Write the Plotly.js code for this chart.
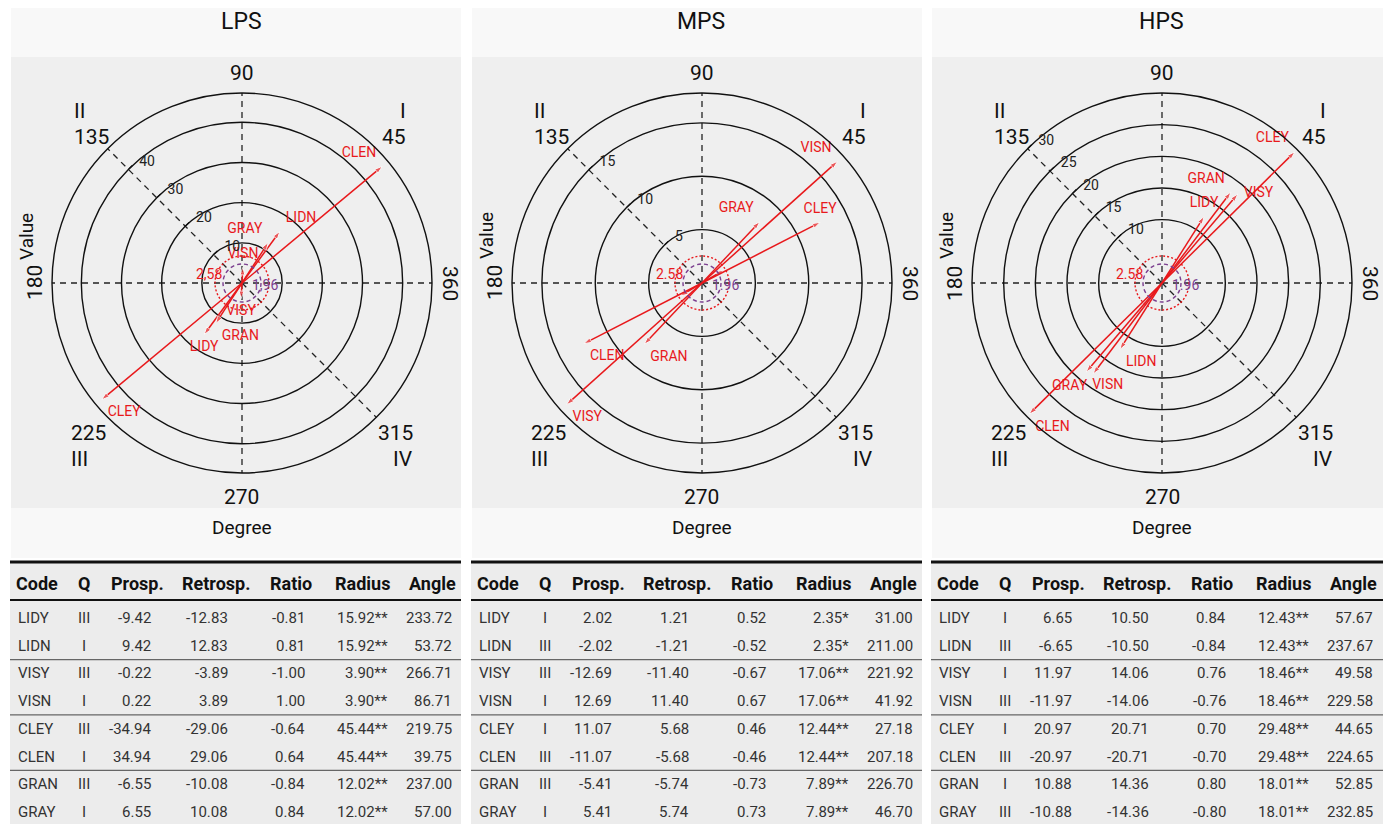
<!DOCTYPE html>
<html>
<head>
<meta charset="utf-8">
<script src="https://cdn.plot.ly/plotly-3.0.1.min.js"></script>
<style>
html,body{margin:0;padding:0;background:#ffffff;}
#chart{width:1391px;height:824px;}
</style>
</head>
<body>
<div id="chart"></div>
<script>
// ---------------- DATA ----------------
const panelNames = ['LPS', 'MPS', 'HPS'];
const codes = ['LIDY', 'LIDN', 'VISY', 'VISN', 'CLEY', 'CLEN', 'GRAN', 'GRAY'];

const lpsQ      = ['III', 'I', 'III', 'I', 'III', 'I', 'III', 'I'];
const lpsProsp  = [-9.42, 9.42, -0.22, 0.22, -34.94, 34.94, -6.55, 6.55];
const lpsRetro  = [-12.83, 12.83, -3.89, 3.89, -29.06, 29.06, -10.08, 10.08];
const lpsRatio  = [-0.81, 0.81, -1.00, 1.00, -0.64, 0.64, -0.84, 0.84];
const lpsRadius = [15.92, 15.92, 3.90, 3.90, 45.44, 45.44, 12.02, 12.02];
const lpsSig    = ['**', '**', '**', '**', '**', '**', '**', '**'];
const lpsAngle  = [233.72, 53.72, 266.71, 86.71, 219.75, 39.75, 237.00, 57.00];

const mpsQ      = ['I', 'III', 'III', 'I', 'I', 'III', 'III', 'I'];
const mpsProsp  = [2.02, -2.02, -12.69, 12.69, 11.07, -11.07, -5.41, 5.41];
const mpsRetro  = [1.21, -1.21, -11.40, 11.40, 5.68, -5.68, -5.74, 5.74];
const mpsRatio  = [0.52, -0.52, -0.67, 0.67, 0.46, -0.46, -0.73, 0.73];
const mpsRadius = [2.35, 2.35, 17.06, 17.06, 12.44, 12.44, 7.89, 7.89];
const mpsSig    = ['*', '*', '**', '**', '**', '**', '**', '**'];
const mpsAngle  = [31.00, 211.00, 221.92, 41.92, 27.18, 207.18, 226.70, 46.70];

const hpsQ      = ['I', 'III', 'I', 'III', 'I', 'III', 'I', 'III'];
const hpsProsp  = [6.65, -6.65, 11.97, -11.97, 20.97, -20.97, 10.88, -10.88];
const hpsRetro  = [10.50, -10.50, 14.06, -14.06, 20.71, -20.71, 14.36, -14.36];
const hpsRatio  = [0.84, -0.84, 0.76, -0.76, 0.70, -0.70, 0.80, -0.80];
const hpsRadius = [12.43, 12.43, 18.46, 18.46, 29.48, 29.48, 18.01, 18.01];
const hpsSig    = ['**', '**', '**', '**', '**', '**', '**', '**'];
const hpsAngle  = [57.67, 237.67, 49.58, 229.58, 44.65, 224.65, 52.85, 232.85];

const radialTicks = [[10, 20, 30, 40], [5, 10, 15], [10, 15, 20, 25, 30]];
const sigLevels = ['2.58', '1.96'];
const sigLevelTextLPS = ['2,58', '1,96'];
const tableHeaders = ['Code', 'Q', 'Prosp.', 'Retrosp.', 'Ratio', 'Radius', 'Angle'];
const sideAngleTexts = ['90', '270', '180', '360'];
const cornerAngleTexts = ['135', '45', '225', '315'];
const quadrantTexts = ['II', 'I', 'III', 'IV'];

// ---------------- STYLE / LAYOUT ----------------
const W = 1391, H = 824;
const FONT = "Roboto, 'Liberation Sans', sans-serif";
const RED = '#e8191c', PURPLE = '#7b3f8f';
const px = x => x / W;
const py = y => 1 - y / H;

const panels = [
  {name: 'LPS', cx: 242,  left: 11,  right: 461, rmax: 47.3, Q: lpsQ, prosp: lpsProsp, retro: lpsRetro, ratio: lpsRatio, radius: lpsRadius, sig: lpsSig, angle: lpsAngle,
   labelPos: ['bottom center', 'top right', 'bottom center', 'top center', 'bottom right', 'top left', 'bottom right', 'top left'], hideLabel: []},
  {name: 'MPS', cx: 702,  left: 472, right: 922, rmax: 17.8, Q: mpsQ, prosp: mpsProsp, retro: mpsRetro, ratio: mpsRatio, radius: mpsRadius, sig: mpsSig, angle: mpsAngle,
   labelPos: ['top right', 'bottom left', 'bottom right', 'top left', 'top center', 'bottom right', 'bottom right', 'top left'], hideLabel: ['LIDY', 'LIDN']},
  {name: 'HPS', cx: 1162, left: 932, right: 1383, rmax: 30.0, Q: hpsQ, prosp: hpsProsp, retro: hpsRetro, ratio: hpsRatio, radius: hpsRadius, sig: hpsSig, angle: hpsAngle,
   labelPos: ['top center', 'bottom right', 'middle right', 'bottom right', 'top left', 'bottom right', 'top left', 'bottom left'], hideLabel: []}
];
const CY = 283, R = 190;

// [dx, dy, textangle]
const sideAngleOffsets = [[0, -210, 0], [0, 214, 0], [-207, 0, -90], [208, 0, 90]];
// corner labels: number and roman numeral stacked; [dx, boundary dy, xanchor, numberOnTop]
const cornerStacks = [[-169, -159, 'left', false], [165, -159, 'right', false], [-172, 163, 'left', true], [172, 163, 'right', true]];

// table geometry
const tTop = 562, tHeadY = 583, tHeadLine = 600, tRow0 = 618, tRowH = 27.7;
const colX = [6, 73, 141, 218, 295, 378, 442];          // data cell anchors (offset from panel left)
const colAlign = ['left', 'center', 'right', 'right', 'right', 'right', 'right'];
const headX = [4, 73, 154, 240, 302, 380, 446];

const traces = [];
const shapes = [];
const annotations = [];
const layout = {
  width: W, height: H,
  margin: {l: 0, r: 0, t: 0, b: 0},
  paper_bgcolor: '#ffffff',
  showlegend: false,
  font: {family: FONT, color: '#222'},
};

function txt(x, y, text, size, color, opts) {
  return Object.assign({xref: 'paper', yref: 'paper', x: px(x), y: py(y), text: text, showarrow: false,
    font: {size: size, color: color, family: FONT}, xanchor: 'center', yanchor: 'middle', borderpad: 0}, opts || {});
}

panels.forEach((p, i) => {
  const key = i === 0 ? 'polar' : 'polar' + (i + 1);
  // background blocks
  shapes.push({type: 'rect', xref: 'paper', yref: 'paper', layer: 'below', x0: px(p.left), x1: px(p.right), y0: py(558), y1: py(8),
    fillcolor: '#f8f8f8', line: {width: 0}});
  shapes.push({type: 'rect', xref: 'paper', yref: 'paper', layer: 'below', x0: px(p.left), x1: px(p.right), y0: py(508), y1: py(57),
    fillcolor: '#efefef', line: {width: 0}});
  shapes.push({type: 'rect', xref: 'paper', yref: 'paper', layer: 'below', x0: px(p.left - 1), x1: px(p.right), y0: py(824), y1: py(tTop),
    fillcolor: '#ececec', line: {width: 0}});

  layout[key] = {
    domain: {x: [px(p.cx - R), px(p.cx + R)], y: [py(CY + R), py(CY - R)]},
    bgcolor: 'rgba(0,0,0,0)',
    radialaxis: {
      range: [0, p.rmax], tickvals: radialTicks[i], ticktext: radialTicks[i].map(String),
      angle: 135, side: 'clockwise', tickangle: 135, showline: false,
      ticks: 'outside', ticklen: 5, tickwidth: 1.2, tickcolor: '#111',
      showgrid: true, gridcolor: '#111', gridwidth: 1.4,
      tickfont: {size: 14, family: FONT, color: '#222'}
    },
    angularaxis: {
      tickvals: [0, 90, 135, 180, 270, 315], showticklabels: false, ticks: '',
      showgrid: true, gridcolor: '#222', gridwidth: 1.3, griddash: '6px,5px',
      showline: true, linecolor: '#111', linewidth: 1.4,
      rotation: 0, direction: 'counterclockwise'
    }
  };

  // arrows
  codes.forEach((c, j) => {
    const hidden = p.hideLabel.indexOf(c) >= 0;
    traces.push({
      type: 'scatterpolar', subplot: key,
      r: [0, p.radius[j]], theta: [p.angle[j], p.angle[j]],
      mode: 'lines+markers+text',
      text: ['', hidden ? '' : c],
      textposition: p.labelPos[j],
      textfont: {size: 14, color: RED, family: FONT},
      line: {color: RED, width: 1.5},
      marker: {symbol: 'arrow', size: [0, 8], color: RED, angleref: 'previous'},
      hoverinfo: 'skip', cliponaxis: false
    });
  });

  // significance reference circles (fixed pixel size as in the original)
  [[27, RED, '2px,2px'], [19, PURPLE, '4px,3px']].forEach(([rr, col, dash]) => {
    shapes.push({type: 'circle', xref: 'paper', yref: 'paper', layer: 'above',
      x0: px(p.cx - rr), x1: px(p.cx + rr), y0: py(CY + rr), y1: py(CY - rr),
      line: {color: col, width: 1.4, dash: dash}});
  });
  const sigTxt = i === 0 ? sigLevelTextLPS : sigLevels;
  annotations.push(txt(p.cx - 33, CY - 9, sigTxt[0], 14, RED));
  annotations.push(txt(p.cx + 23, CY + 2, sigTxt[1], 14, PURPLE));

  // title, axis titles
  annotations.push(txt(p.cx - 1, 22, p.name, 23, '#111'));
  annotations.push(txt(p.cx, 527, 'Degree', 19, '#111'));
  annotations.push(txt(p.cx - 216, 236, 'Value', 19, '#111', {textangle: -90}));

  // angle labels and quadrants
  sideAngleTexts.forEach((t, k) => {
    const o = sideAngleOffsets[k];
    annotations.push(txt(p.cx + o[0], CY + o[1], t, 21, '#111', {textangle: o[2]}));
  });
  cornerStacks.forEach((o, k) => {
    const yb = CY + o[1];
    const topText = o[3] ? cornerAngleTexts[k] : quadrantTexts[k];
    const botText = o[3] ? quadrantTexts[k] : cornerAngleTexts[k];
    annotations.push(txt(p.cx + o[0], yb, topText, 21, '#111', {xanchor: o[2], yanchor: 'bottom'}));
    annotations.push(txt(p.cx + o[0], yb, botText, 21, '#111', {xanchor: o[2], yanchor: 'top'}));
  });

  // ---------- table ----------
  const L = p.left;
  shapes.push({type: 'line', xref: 'paper', yref: 'paper', x0: px(L - 1), x1: px(p.right), y0: py(tTop), y1: py(tTop), line: {color: '#111', width: 3}});
  shapes.push({type: 'line', xref: 'paper', yref: 'paper', x0: px(L - 1), x1: px(p.right), y0: py(tHeadLine), y1: py(tHeadLine), line: {color: '#111', width: 2.2}});
  [2, 4, 6].forEach(k => {
    const yy = tRow0 + (k - 0.5) * tRowH;
    shapes.push({type: 'line', xref: 'paper', yref: 'paper', x0: px(L - 1), x1: px(p.right), y0: py(yy), y1: py(yy), line: {color: '#666', width: 1.3}});
  });
  tableHeaders.forEach((h, k) => {
    annotations.push(txt(L + headX[k], tHeadY, '<b>' + h + '</b>', 18, '#111', {xanchor: colAlign[k]}));
  });
  codes.forEach((c, j) => {
    const cells = [c, p.Q[j], p.prosp[j].toFixed(2), p.retro[j].toFixed(2), p.ratio[j].toFixed(2),
      p.radius[j].toFixed(2) + p.sig[j], p.angle[j].toFixed(2)];
    cells.forEach((v, k) => {
      annotations.push(txt(L + colX[k], tRow0 + j * tRowH, v, 15, '#333', {xanchor: colAlign[k]}));
    });
  });
});

layout.shapes = shapes;
layout.annotations = annotations;

Plotly.newPlot('chart', traces, layout, {staticPlot: true, displayModeBar: false});
</script>
</body>
</html>
